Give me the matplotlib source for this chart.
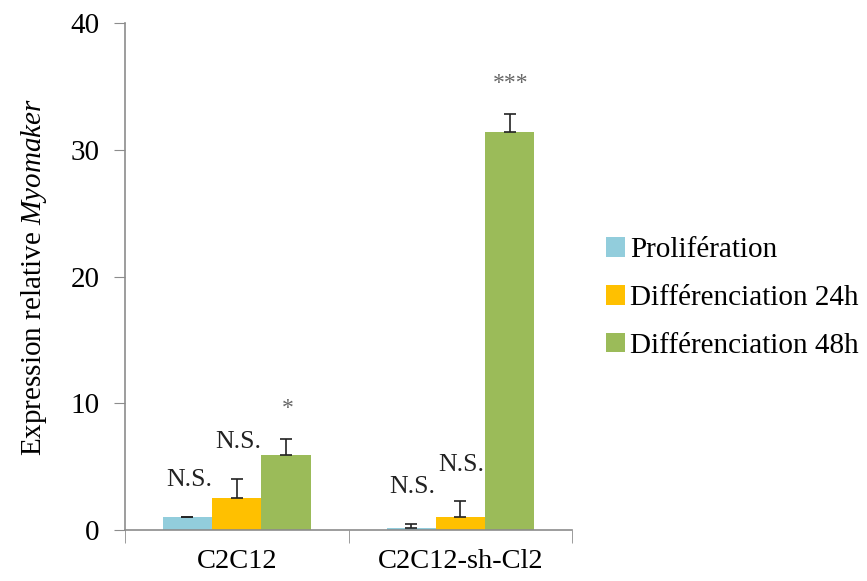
import matplotlib
matplotlib.use("Agg")
import matplotlib.pyplot as plt
import numpy as np

plt.rcParams['font.family'] = ['Liberation Serif', 'DejaVu Serif']
plt.rcParams['mathtext.fontset'] = 'custom'
plt.rcParams['mathtext.rm'] = 'Liberation Serif'
plt.rcParams['mathtext.it'] = 'Liberation Serif:italic'

categories = ["C2C12", "C2C12-sh-Cl2"]
series_names = ["Prolifération", "Différenciation 24h", "Différenciation 48h"]
proliferation = [1.0, 0.15]
proliferation_err = [0.05, 0.35]
diff_24h = [2.55, 1.05]
diff_24h_err = [1.5, 1.25]
diff_48h = [5.9, 31.4]
diff_48h_err = [1.3, 1.4]
signif = [["N.S.", "N.S.", "*"], ["N.S.", "N.S.", "***"]]

colors = ["#92CDDC", "#FFC000", "#9BBB59"]
axis_grey = "#8c8c8c"

fig = plt.figure(figsize=(8.67, 5.81), dpi=100)
ax = fig.add_axes([0.144, 0.088, 0.516, 0.872])

x = np.arange(len(categories))
w = 0.22
values = [proliferation, diff_24h, diff_48h]
errors = [proliferation_err, diff_24h_err, diff_48h_err]

for j, (vals, errs) in enumerate(zip(values, errors)):
    pos = x + (j - 1) * w
    ax.bar(pos, vals, width=w, color=colors[j], label=series_names[j], zorder=2)
    ax.errorbar(pos, vals, yerr=[np.zeros(len(errs)), errs], fmt='none',
                ecolor='#222222', elinewidth=1.2, capsize=4, capthick=1.2, zorder=3)
    for i in range(len(categories)):
        txt = signif[i][j]
        top = vals[i] + errs[i]
        if txt.startswith("*"):
            ax.annotate(txt, (pos[i], top), xytext=(1, 22), textcoords='offset points',
                        ha='center', va='center', fontsize=17, color='#666666')
        else:
            ax.annotate(txt, (pos[i], top), xytext=(1, 26), textcoords='offset points',
                        ha='center', va='center', fontsize=18.5, color='#222222')

ax.set_xlim(-0.5, 1.5)
ax.set_ylim(0, 40)
ax.set_yticks([0, 10, 20, 30, 40])
ax.set_xticks(x)
ax.set_xticklabels(categories)
ax.set_xticks([-0.5, 0.5, 1.5], minor=True)
ax.tick_params(axis='x', which='major', length=0, pad=14, labelsize=20.5)
ax.tick_params(axis='x', which='minor', length=9, color=axis_grey, direction='out')
ax.tick_params(axis='y', length=8, color=axis_grey, labelsize=21, pad=10)

for s in ['top', 'right']:
    ax.spines[s].set_visible(False)
for s in ['left', 'bottom']:
    ax.spines[s].set_color(axis_grey)
    ax.spines[s].set_linewidth(1.2)

ax.set_ylabel(r"Expression relative $\mathit{Myomaker}$", fontsize=21, labelpad=16)

fig.legend(loc='center left', bbox_to_anchor=(0.685, 0.487), frameon=False,
           fontsize=21, handlelength=0.65, handleheight=0.65, handletextpad=0.2,
           labelspacing=0.75, borderaxespad=0)

fig.savefig("out.png", dpi=100)
